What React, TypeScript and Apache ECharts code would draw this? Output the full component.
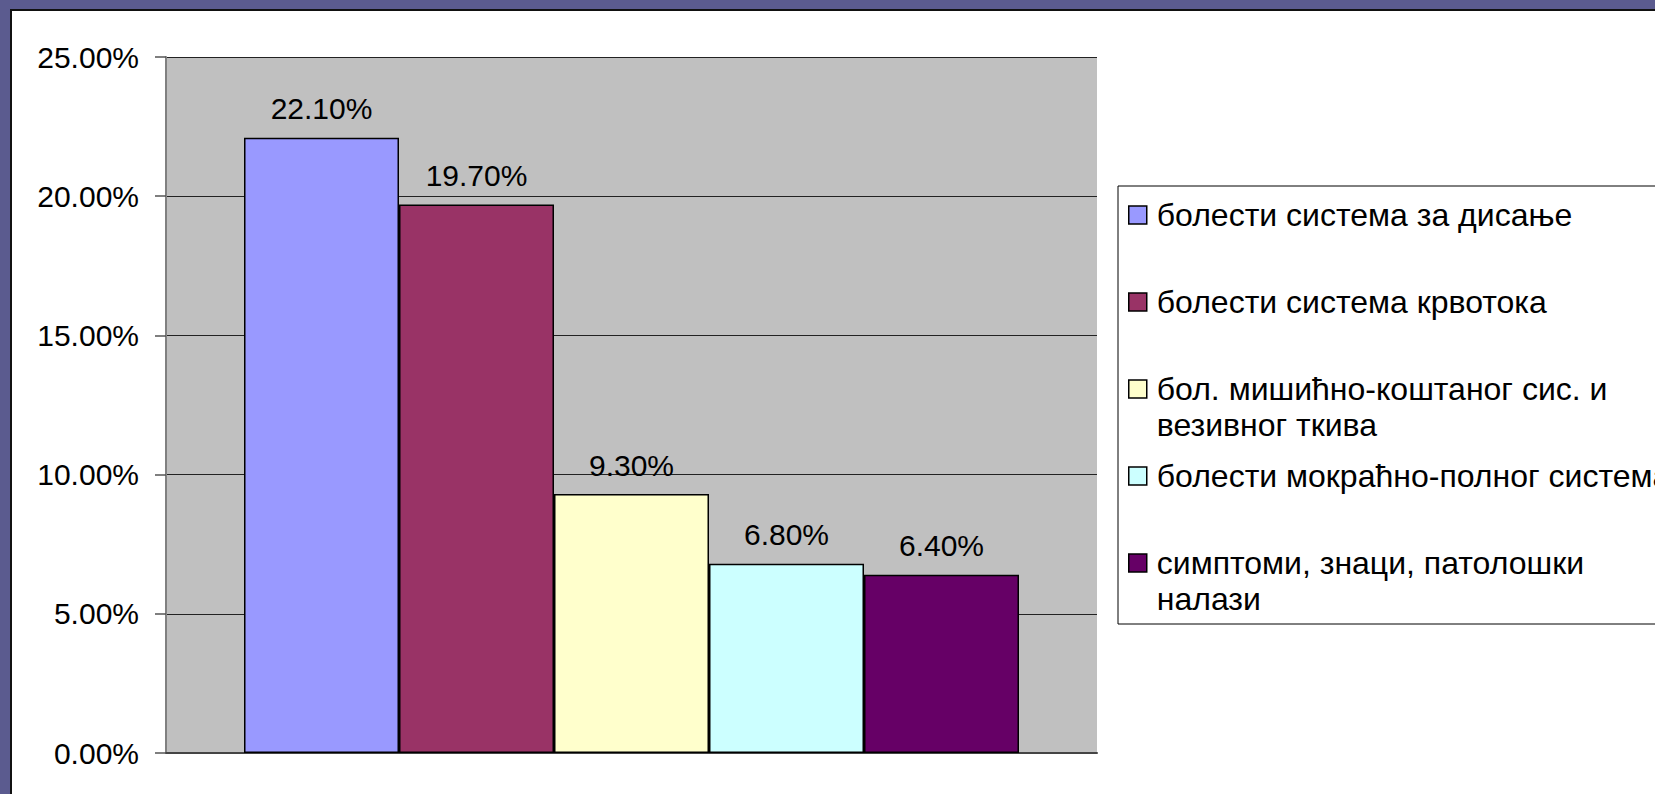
import React, { useEffect, useRef } from "react";
import * as echarts from "echarts";

const seriesNames = [
  "болести система за дисање",
  "болести система крвотока",
  "бол. мишићно-коштаног сис. и везивног ткива",
  "болести мокраћно-полног система",
  "симптоми, знаци, патолошки налази",
];
const legendLabels = [
  "болести система за дисање",
  "болести система крвотока",
  "бол. мишићно-коштаног сис. и\nвезивног ткива",
  "болести мокраћно-полног система",
  "симптоми, знаци, патолошки\nналази",
];
const values = [22.1, 19.7, 9.3, 6.8, 6.4];
const colors = ["#9999FF", "#993366", "#FFFFCC", "#CCFFFF", "#660066"];
const yTicks = { min: 0, max: 25, interval: 5 };

const FONT = "'Liberation Sans', Arial, sans-serif";

export default function App() {
  const ref = useRef<HTMLDivElement>(null);
  useEffect(() => {
    if (!ref.current) return;
    const chart = echarts.init(ref.current, undefined, { renderer: "svg" });
    const series = seriesNames.map((name, i) => ({
      name,
      type: "bar",
      data: [values[i]],
      barWidth: 155,
      barGap: "0%",
      itemStyle: { color: colors[i], borderColor: "#000", borderWidth: 1.5 },
      label: {
        show: true,
        position: "top",
        distance: 14,
        color: "#000",
        fontSize: 30,
        fontFamily: FONT,
        formatter: (p: any) => Number(p.value).toFixed(2) + "%",
      },
    }));
    chart.setOption({
      animation: false,
      backgroundColor: "transparent",
      textStyle: { fontFamily: FONT },
      graphic: [
        {
          type: "rect",
          z: -10,
          shape: { x: 1118, y: 186, width: 700, height: 438 },
          style: { fill: "#fff", stroke: "#000", lineWidth: 1 },
        },
      ],
      grid: {
        left: 166,
        top: 57,
        width: 931,
        height: 696,
        show: true,
        backgroundColor: "#C0C0C0",
        borderWidth: 0,
      },
      xAxis: {
        type: "category",
        data: [""],
        axisLine: { show: true, lineStyle: { color: "#444", width: 2 } },
        axisTick: { show: false },
        axisLabel: { show: false },
      },
      yAxis: {
        type: "value",
        min: yTicks.min,
        max: yTicks.max,
        interval: yTicks.interval,
        axisLine: { show: true, lineStyle: { color: "#808080", width: 2 } },
        axisTick: { show: true, length: 11, lineStyle: { color: "#555", width: 1.5 } },
        axisLabel: {
          margin: 27,
          color: "#000",
          fontSize: 30,
          fontFamily: FONT,
          formatter: (v: number) => v.toFixed(2) + "%",
        },
        splitLine: { show: true, lineStyle: { color: "#222", width: 1 } },
      },
      legend: {
        orient: "vertical",
        left: 1128,
        top: 161,
        padding: 0,
        itemGap: -21,
        itemWidth: 18,
        itemHeight: 18,
        icon: "rect",
        itemStyle: { borderColor: "#000", borderWidth: 1.5 },
        data: seriesNames,
        formatter: (name: string) => {
          const lbl = legendLabels[seriesNames.indexOf(name)] ?? name;
          const two = lbl.includes("\n") ? lbl : lbl + "\n ";
          return " \n" + two;
        },
        textStyle: {
          color: "#000",
          fontSize: 32,
          fontFamily: FONT,
          lineHeight: 36,
          padding: [0, 0, 0, 5],
        },
      },
      series,
    });
    return () => chart.dispose();
  }, []);
  return (
    <div
      style={{
        position: "fixed",
        left: 0,
        top: 0,
        width: 1655,
        height: 794,
        background: "#5B5B8F",
        overflow: "hidden",
      }}
    >
      <div
        style={{
          position: "absolute",
          left: 10,
          top: 9,
          right: 0,
          bottom: 0,
          background: "#fff",
          borderLeft: "2px solid #111",
          borderTop: "2px solid #111",
        }}
      />
      <div
        ref={ref}
        style={{ position: "absolute", left: 0, top: 0, width: 1655, height: 794 }}
      />
    </div>
  );
}
